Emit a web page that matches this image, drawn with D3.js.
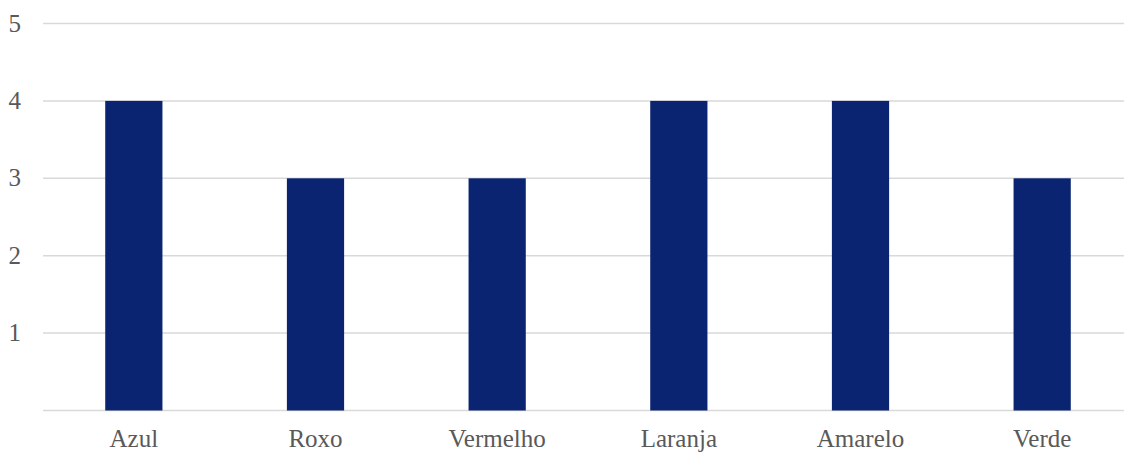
<!DOCTYPE html>
<html>
<head>
<meta charset="utf-8">
<script src="https://cdn.jsdelivr.net/npm/d3@7"></script>
<style>
  html, body { margin: 0; padding: 0; background: #fff; }
  svg { display: block; }
</style>
</head>
<body>
<svg id="chart" width="1124" height="453"></svg>
<script>
const categories = ["Azul", "Roxo", "Vermelho", "Laranja", "Amarelo", "Verde"];
const values = [4, 3, 3, 4, 4, 3];
const yTicks = [0, 1, 2, 3, 4, 5];

const FONT = "'Liberation Serif', 'Times New Roman', Times, 'DejaVu Serif', serif";
const svg = d3.select("#chart");
const plotLeft = 43, plotRight = 1133, plotTop = 23.5, plotBottom = 410.5;

const x = d3.scaleBand().domain(categories).range([plotLeft, plotRight]).paddingInner(0.685).paddingOuter(0.3425);
const y = d3.scaleLinear().domain([0, 5]).range([plotBottom, plotTop]);

// horizontal gridlines
svg.append("g").selectAll("line").data(yTicks).join("line")
  .attr("x1", plotLeft).attr("x2", plotRight)
  .attr("y1", d => y(d)).attr("y2", d => y(d))
  .attr("stroke", "#d9d9d9").attr("stroke-width", 1.5);

// bars
svg.append("g").selectAll("rect").data(categories).join("rect")
  .attr("x", d => x(d))
  .attr("width", x.bandwidth())
  .attr("y", (d, i) => y(values[i]))
  .attr("height", (d, i) => y(0) - y(values[i]))
  .attr("fill", "#0a2471");

// y-axis labels (zero is not labelled)
svg.append("g").selectAll("text").data(yTicks.filter(d => d > 0)).join("text")
  .attr("x", 21).attr("y", d => y(d))
  .attr("dy", "0.32em")
  .attr("text-anchor", "end")
  .attr("font-family", FONT)
  .attr("font-size", 25)
  .attr("fill", "#595959")
  .text(d => d);

// category labels
svg.append("g").selectAll("text").data(categories).join("text")
  .attr("x", d => x(d) + x.bandwidth() / 2)
  .attr("y", 447)
  .attr("text-anchor", "middle")
  .attr("font-family", FONT)
  .attr("font-size", 25)
  .attr("fill", "#595959")
  .text(d => d);
</script>
</body>
</html>
